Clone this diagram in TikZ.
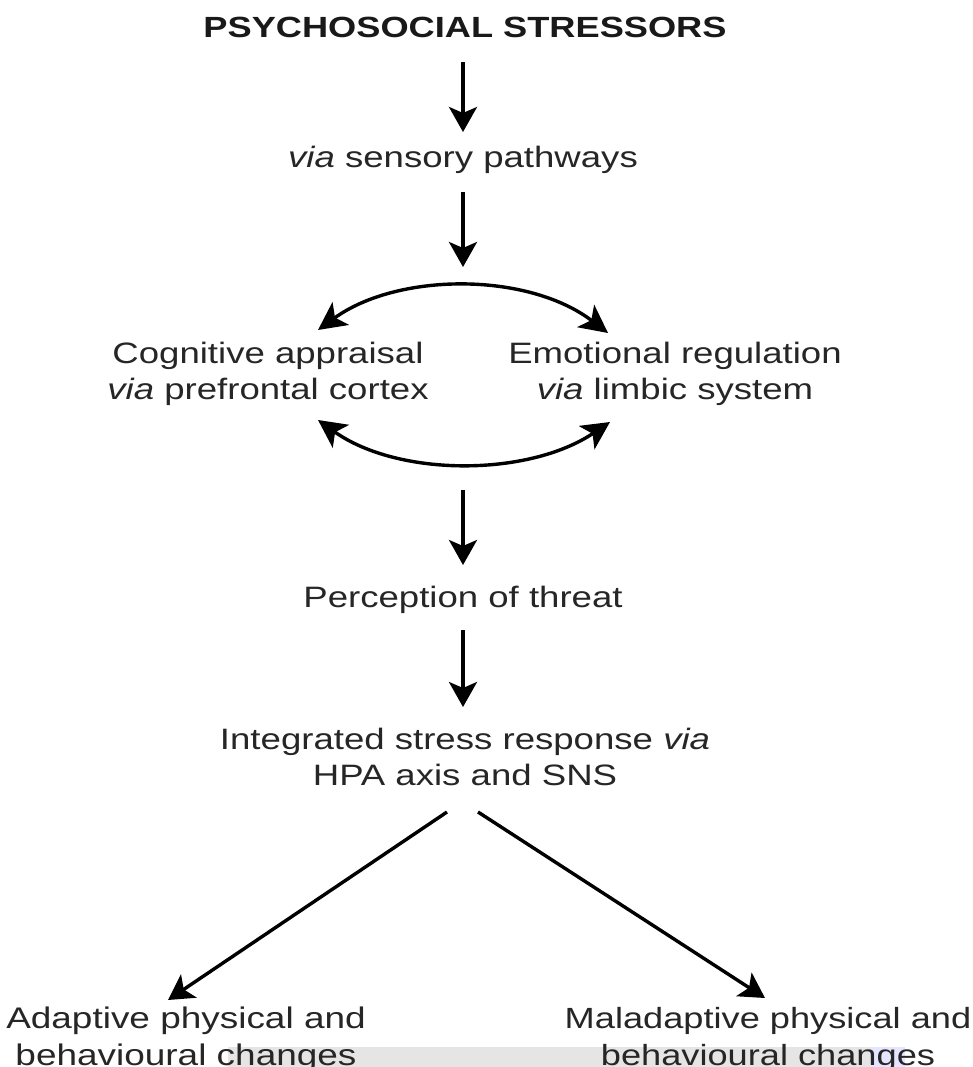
\documentclass[tikz,border=0pt]{standalone}
\usepackage{fontspec}
\setmainfont{Liberation Sans}[FakeStretch=1.24]
\usetikzlibrary{arrows.meta}
\begin{document}
\begin{tikzpicture}[x=1pt,y=-1pt,
  lbl/.style={inner sep=0pt, align=center, font=\fontsize{29.5}{36}\selectfont, text=black!85},
  arr/.style={line width=3.4pt, -{Stealth[length=25pt,width=28pt,inset=6pt]}},
  darr/.style={line width=3.4pt, {Stealth[length=28pt,width=28pt,inset=7pt]}-{Stealth[length=28pt,width=28pt,inset=7pt]}}]
\useasboundingbox (0,0) rectangle (973,1067);
\clip (0,0) rectangle (973,1067);
\fill[white] (0,0) rectangle (973,1067);
\fill[black!10] (228,1047) rectangle (870,1067);
\fill[blue!10] (870,1047) rectangle (905,1067);

% text nodes
\node[lbl, font=\fontsize{29.2}{36}\selectfont\bfseries, text=black!90] (title) at (465,27) {PSYCHOSOCIAL STRESSORS};
\node[lbl] (sens) at (463,160) {\textit{via} sensory pathways};
\node[lbl] (cog) at (268,374) {Cognitive appraisal\\\textit{via} prefrontal cortex};
\node[lbl] (emo) at (675,374) {Emotional regulation\\\textit{via} limbic system};
\node[lbl] (perc) at (463,600) {Perception of threat};
\node[lbl] (integ) at (465,757) {Integrated stress response \textit{via}\\HPA axis and SNS};
\node[lbl, font=\fontsize{29.8}{37}\selectfont] (adapt) at (186,1039) {Adaptive physical and\\behavioural changes};
\node[lbl, font=\fontsize{29.2}{37}\selectfont] (malad) at (768,1039) {Maladaptive physical and\\behavioural changes};

% connector end points
\coordinate (a1s) at (463,62);  \coordinate (a1e) at (463,132);
\coordinate (a2s) at (463,192); \coordinate (a2e) at (463,267);
\coordinate (tl) at (318,330);  \coordinate (tr) at (608,333);
\coordinate (bl) at (318,420);  \coordinate (br) at (610,422);
\coordinate (a3s) at (463,490); \coordinate (a3e) at (463,565);
\coordinate (a4s) at (463,630); \coordinate (a4e) at (463,707);
\coordinate (dls) at (447,812); \coordinate (dle) at (168,1000);
\coordinate (drs) at (478,812); \coordinate (dre) at (765,998);

\draw[arr] (a1s) -- (a1e);
\draw[arr] (a2s) -- (a2e);
\draw[darr] (tl) .. controls (398,272) and (528,272) .. (tr);
\draw[darr] (bl) .. controls (398,477) and (528,477) .. (br);
\draw[arr] (a3s) -- (a3e);
\draw[arr] (a4s) -- (a4e);
\draw[arr] (dls) -- (dle);
\draw[arr] (drs) -- (dre);
\end{tikzpicture}
\end{document}
